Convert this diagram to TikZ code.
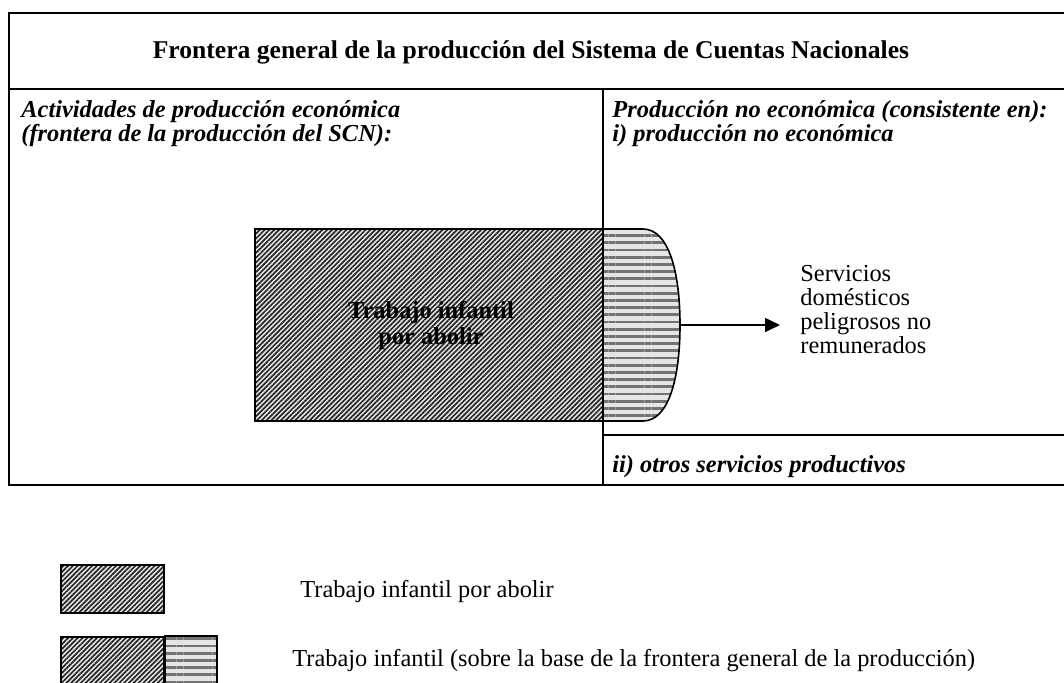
\documentclass[tikz,border=0pt]{standalone}
\usepackage{fontspec}
\setmainfont{Liberation Serif}
\usetikzlibrary{patterns.meta,arrows.meta}
\tikzset{
  frame/.style={line width=1pt},
  diaghatch/.style={draw, line width=0.8pt, preaction={fill=black!8}, pattern={Lines[angle=45,distance=1.7pt,line width=0.85pt]}, pattern color=black!85},
  stripehatch/.style={draw, line width=0.8pt, preaction={fill=black!10}, pattern={Lines[angle=0,distance=3.6pt,line width=1.4pt]}, pattern color=black!55},
  label/.style={inner sep=0pt, align=left, font=\fontsize{12.2}{12}\selectfont}
}
\begin{document}
\begin{tikzpicture}[x=0.5pt,y=-0.5pt]
	\useasboundingbox (0,0) rectangle (1064,682);
	% marco general
	\draw[frame] (1064,13) -- (9,13) -- (9,485) -- (1064,485);
	\draw[frame] (9,89) -- (1064,89);
	\draw[frame] (603,89) -- (603,485);
	\draw[frame] (603,435) -- (1064,435);
	\node[label, font=\fontsize{12.8}{12}\selectfont\bfseries, anchor=base] (title) at (531,58) {Frontera general de la producción del Sistema de Cuentas Nacionales};
	\node[label, font=\fontsize{12.2}{12}\selectfont\bfseries\itshape, anchor=north west] (econ) at (21,100) {Actividades de producción económica\\(frontera de la producción del SCN):};
	\node[label, font=\fontsize{12.2}{12}\selectfont\bfseries\itshape, anchor=north west] (noecon) at (612,100) {Producción no económica (consistente en):\\i) producción no económica};
	\node[label, font=\fontsize{12.2}{12}\selectfont\bfseries\itshape, anchor=base west] (otros) at (612,472) {ii) otros servicios productivos};
	% trabajo infantil
	\draw[stripehatch] (603,229) -- (643,229) .. controls (668,229) and (680,270) .. (680,325) .. controls (680,380) and (668,421) .. (643,421) -- (603,421) -- cycle;
	\node[diaghatch, minimum width=174pt, minimum height=96pt] (abolir) at (429,325) {};
	\node[label, font=\fontsize{12.2}{13}\selectfont\bfseries, align=center] (abolirtxt) at (431,325) {Trabajo infantil\\por abolir};
	\draw[frame] (603,229) -- (603,421);
	\coordinate (dtip) at (680,325);
	\node[label, anchor=north west] (serv) at (800,265) {Servicios\\domésticos\\peligrosos no\\remunerados};
	\draw[line width=0.8pt, -{Triangle[length=7.5pt,width=7pt]}] (dtip) -- (780,325);
	% leyenda
	\node[diaghatch, minimum width=51.5pt, minimum height=24pt] (leyA) at (112.5,589) {};
	\node[diaghatch, minimum width=51.5pt, minimum height=26pt] (leyB) at (112.5,663) {};
	\draw[stripehatch] (leyB.north east) rectangle ++(52,52);
	\node[label, anchor=base west] (leyAtxt) at (300,597) {Trabajo infantil por abolir};
	\node[label, anchor=base west] (leyBtxt) at (292,666) {Trabajo infantil (sobre la base de la frontera general de la producción)};
\end{tikzpicture}
\end{document}
